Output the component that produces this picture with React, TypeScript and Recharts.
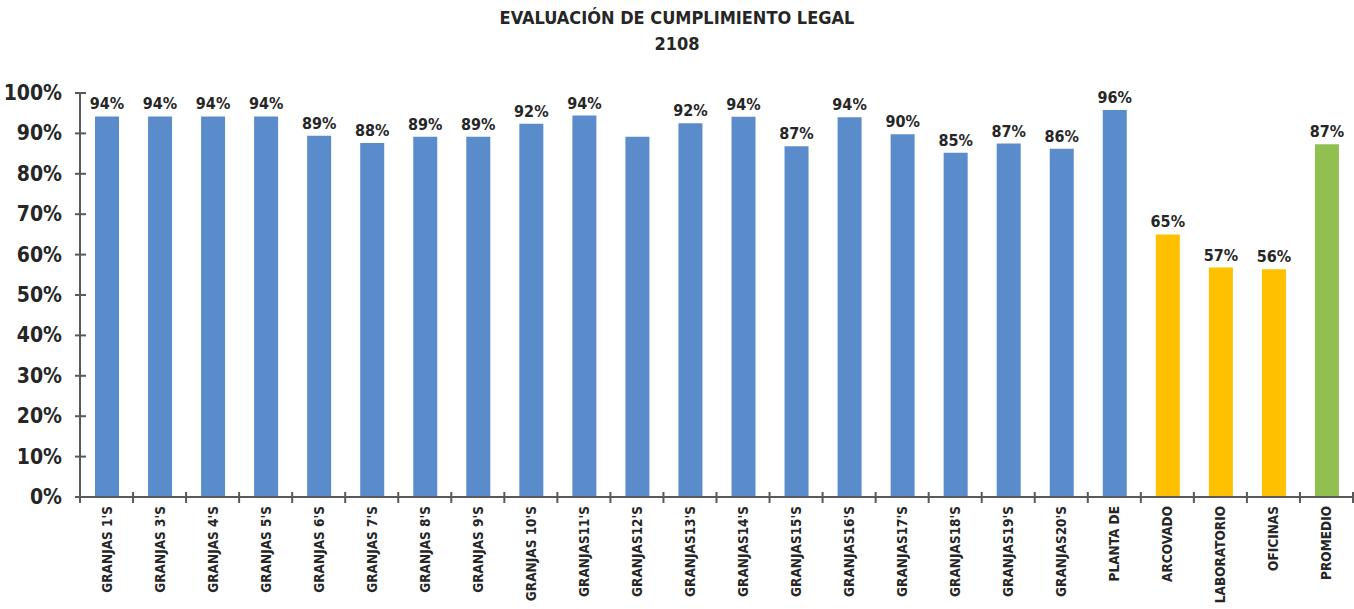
import React from 'react';
import { BarChart, Bar, XAxis, YAxis, Cell, LabelList } from 'recharts';

const categories = [
  "GRANJAS 1'S", "GRANJAS 3'S", "GRANJAS 4'S", "GRANJAS 5'S", "GRANJAS 6'S",
  "GRANJAS 7'S", "GRANJAS 8'S", "GRANJAS 9'S", "GRANJAS 10'S", "GRANJAS11'S",
  "GRANJAS12'S", "GRANJAS13'S", "GRANJAS14'S", "GRANJAS15'S", "GRANJAS16'S",
  "GRANJAS17'S", "GRANJAS18'S", "GRANJAS19'S", "GRANJAS20'S", 'PLANTA DE',
  'ARCOVADO', 'LABORATORIO', 'OFICINAS', 'PROMEDIO',
];

const values = [
  94.2, 94.2, 94.2, 94.2, 89.4, 87.6, 89.2, 89.2, 92.4, 94.4,
  89.2, 92.5, 94.1, 86.8, 94.0, 89.8, 85.2, 87.5, 86.2, 95.8,
  65.0, 56.8, 56.4, 87.3,
];

// the 12th bar has no data label in the original
const labels = [
  '94%', '94%', '94%', '94%', '89%', '88%', '89%', '89%', '92%', '94%',
  '', '92%', '94%', '87%', '94%', '90%', '85%', '87%', '86%', '96%',
  '65%', '57%', '56%', '87%',
];

const groups = [
  'site', 'site', 'site', 'site', 'site', 'site', 'site', 'site', 'site', 'site',
  'site', 'site', 'site', 'site', 'site', 'site', 'site', 'site', 'site', 'site',
  'area', 'area', 'area', 'avg',
];

const yTicks = [0, 10, 20, 30, 40, 50, 60, 70, 80, 90, 100];

const colors: Record<string, string> = {
  site: '#5a8ccc',
  area: '#ffc000',
  avg: '#92c050',
};

const FONT = '"Liberation Sans Narrow", "DejaVu Sans Condensed", "Arial Narrow", sans-serif';
const AXIS = '#595959';
const TEXT = '#262626';

const W = 1354;
const H = 609;
const LEFT = 80;
const RIGHT = 1;
const BAND = (W - LEFT - RIGHT) / categories.length;

const data = categories.map((name, i) => ({
  name,
  value: values[i],
  label: labels[i],
  group: groups[i],
}));

const XTick = (props: any) => {
  const { x, y, payload, index } = props;
  const last = index === categories.length - 1;
  return (
    <g>
      <line x1={x - BAND / 2} x2={x - BAND / 2} y1={y - 5} y2={y + 6} stroke={AXIS} strokeWidth={2} />
      {last && (
        <line x1={x + BAND / 2} x2={x + BAND / 2} y1={y - 5} y2={y + 6} stroke={AXIS} strokeWidth={2} />
      )}
      <text
        x={0}
        y={0}
        transform={`translate(${x + 5},${y + 9}) rotate(-90)`}
        textAnchor="end"
        fill={TEXT}
        fontFamily={FONT}
        fontWeight="bold"
        fontSize={13.5}
      >
        {payload.value}
      </text>
    </g>
  );
};

const YTick = (props: any) => {
  const { x, y, payload } = props;
  return (
    <g>
      <line x1={x - 5} x2={x + 6} y1={y} y2={y} stroke={AXIS} strokeWidth={2} />
      <text
        x={x - 18}
        y={y + 7}
        textAnchor="end"
        fill={TEXT}
        fontFamily={FONT}
        fontWeight="bold"
        fontSize={21}
      >
        {`${payload.value}%`}
      </text>
    </g>
  );
};

export default function App() {
  return (
    <div style={{ position: 'absolute', left: 0, top: 0, width: W, height: H, background: '#fff' }}>
      <div
        style={{
          position: 'absolute',
          top: 5,
          left: 0,
          width: W,
          textAlign: 'center',
          fontFamily: FONT,
          fontWeight: 'bold',
          fontSize: 18,
          lineHeight: '26px',
          color: TEXT,
        }}
      >
        EVALUACIÓN DE CUMPLIMIENTO LEGAL
        <br />
        2108
      </div>
      <BarChart
        width={W}
        height={H}
        data={data}
        margin={{ top: 93, right: RIGHT, left: 0, bottom: 0 }}
        barCategoryGap={0}
      >
        <XAxis
          dataKey="name"
          interval={0}
          height={112}
          axisLine={{ stroke: AXIS, strokeWidth: 2 }}
          tickLine={false}
          tickSize={0}
          tickMargin={0}
          tick={<XTick />}
        />
        <YAxis
          width={LEFT}
          domain={[0, 100]}
          ticks={yTicks}
          interval={0}
          axisLine={{ stroke: AXIS, strokeWidth: 2 }}
          tickLine={false}
          tickSize={0}
          tickMargin={0}
          tick={<YTick />}
        />
        <Bar dataKey="value" barSize={24} isAnimationActive={false}>
          {data.map((d, i) => (
            <Cell key={i} fill={colors[d.group]} />
          ))}
          <LabelList
            dataKey="label"
            position="top"
            offset={7}
            fill={TEXT}
            fontFamily={FONT}
            fontWeight="bold"
            fontSize={16}
          />
        </Bar>
      </BarChart>
    </div>
  );
}
